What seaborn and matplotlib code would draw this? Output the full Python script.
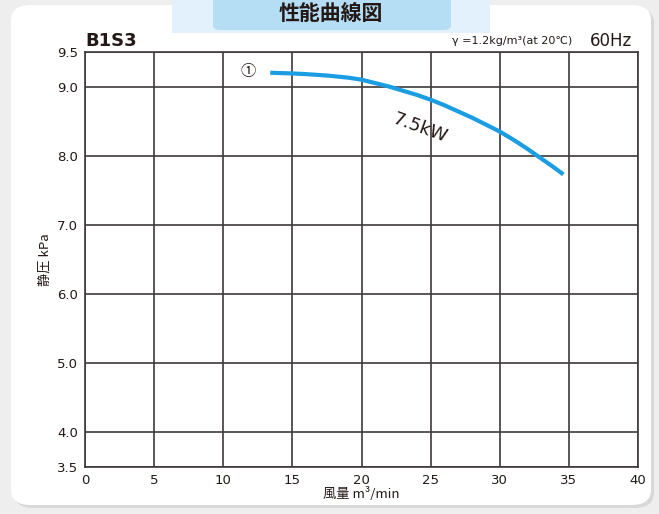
import matplotlib
matplotlib.use("Agg")
import matplotlib.pyplot as plt
import seaborn as sns
import pandas as pd
from matplotlib.patches import FancyBboxPatch, Rectangle

# ---- data ----
flow = [13.4, 15.0, 16.0, 17.5, 19.0, 20.0, 21.0, 22.0, 23.0, 24.0, 25.0,
        26.0, 27.0, 28.0, 29.0, 30.0, 31.0, 32.0, 33.0, 34.0, 34.6]       # m3/min
pressure = [9.20, 9.19, 9.18, 9.16, 9.13, 9.10, 9.05, 9.00, 8.94, 8.88, 8.81,
            8.73, 8.64, 8.55, 8.45, 8.35, 8.23, 8.10, 7.96, 7.82, 7.73]   # kPa
x_ticks = [0, 5, 10, 15, 20, 25, 30, 35, 40]
y_ticks = [3.5, 4.0, 5.0, 6.0, 7.0, 8.0, 9.0, 9.5]
y_tick_labels = ["3.5", "4.0", "5.0", "6.0", "7.0", "8.0", "9.0", "9.5"]
curve_label = "7.5kW"
model = "B1S3"
freq = "60Hz"
density_note = "γ =1.2kg/m³(at 20℃)"
title = "性能曲線図"

df = pd.DataFrame({"flow": flow, "pressure": pressure})

sns.set_theme(style="white")
plt.rcParams["font.family"] = ["DejaVu Sans", "Noto Sans CJK JP"]

W, H = 659, 514
fig = plt.figure(figsize=(W / 100, H / 100), dpi=100)
fig.patch.set_facecolor("#eeeeee")

def fx(px):
    return px / W

def fy(py):
    return 1 - py / H

# panel with shadow
shadow = FancyBboxPatch((fx(14), fy(508)), fx(640), (500) / H,
                        boxstyle="round,pad=0,rounding_size=0.03",
                        transform=fig.transFigure, facecolor="#d8d8d8",
                        edgecolor="none", zorder=0)
fig.patches.append(shadow)
panel = FancyBboxPatch((fx(11), fy(505)), fx(640), (500) / H,
                       boxstyle="round,pad=0,rounding_size=0.03",
                       transform=fig.transFigure, facecolor="white",
                       edgecolor="none", zorder=0.5)
fig.patches.append(panel)
# title tab
fig.patches.append(Rectangle((fx(172), fy(33)), fx(318), 40 / H,
                             transform=fig.transFigure, facecolor="#e2f1fb",
                             edgecolor="none", zorder=1))
fig.patches.append(FancyBboxPatch((fx(213), fy(30)), fx(238), 40 / H,
                                  boxstyle="round,pad=0,rounding_size=0.01",
                                  transform=fig.transFigure, facecolor="#b5def5",
                                  edgecolor="none", zorder=1.2))
fig.text(fx(331), fy(13), title, ha="center", va="center", fontsize=15,
         fontweight="bold", color="#231815", family=["Noto Sans CJK JP"], zorder=3)

ax = fig.add_axes([fx(85), fy(467), fx(638 - 85), (467 - 52) / H])
ax.set_facecolor("white")
ax.set_zorder(2)

sns.lineplot(data=df, x="flow", y="pressure", ax=ax, color="#1a9de2",
             linewidth=3.0, solid_capstyle="butt", zorder=5)

ax.set_xlim(0, 40)
ax.set_ylim(3.5, 9.5)
ax.set_xticks(x_ticks)
ax.set_xticklabels([str(t) for t in x_ticks])
ax.set_yticks(y_ticks)
ax.set_yticklabels(y_tick_labels)
ax.grid(True, color="#3e3a39", linewidth=1.2)
ax.set_axisbelow(True)
for s in ax.spines.values():
    s.set_color("#3e3a39")
    s.set_linewidth(1.2)
ax.tick_params(axis="both", length=0, labelsize=9.5, colors="#231815")
ax.tick_params(axis="x", pad=5)
ax.tick_params(axis="y", pad=5)

ax.set_xlabel("風量 m³/min", fontsize=9.5, color="#231815", labelpad=0,
              family=["Noto Sans CJK JP", "DejaVu Sans"])
ax.set_ylabel("静圧 kPa", fontsize=9.5, color="#231815", labelpad=4,
              family=["Noto Sans CJK JP", "DejaVu Sans"])

ax.text(24.2, 8.40, curve_label, rotation=-20, ha="center", va="center",
        fontsize=13, color="#231815", zorder=6)
ax.text(11.8, 9.22, "①", ha="center", va="center", fontsize=11,
        color="#231815", family=["Noto Sans CJK JP", "DejaVu Sans"], zorder=6)

fig.text(fx(85), fy(41), model, ha="left", va="center", fontsize=13,
         fontweight="bold", color="#231815", zorder=3)
fig.text(fx(572), fy(41), density_note, ha="right", va="center", fontsize=8,
         color="#231815", family=["DejaVu Sans", "Noto Sans CJK JP"], zorder=3)
fig.text(fx(632), fy(41), freq, ha="right", va="center", fontsize=12,
         color="#231815", zorder=3)

fig.savefig("out.png", dpi=100)
